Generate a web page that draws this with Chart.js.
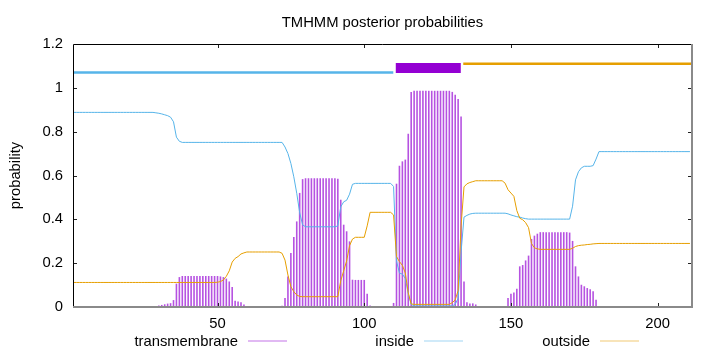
<!DOCTYPE html>
<html><head><meta charset="utf-8">
<script src="https://cdn.jsdelivr.net/npm/chart.js@4/dist/chart.umd.min.js"></script>
<style>html,body{margin:0;padding:0;background:#fff;}#wrap{position:relative;width:720px;height:352px;}</style>
</head><body><div id="wrap"><canvas id="c" width="720" height="352"></canvas></div>
<script>
const chartTitle = "TMHMM posterior probabilities";
const yAxisLabel = "probability";
const xTickValues = [50, 100, 150, 200];
const yTickValues = [0, 0.2, 0.4, 0.6, 0.8, 1, 1.2];
const seriesNames = ["transmembrane", "inside", "outside"];

// per-residue posterior probabilities (residue 1 ... 211)
const transmembrane = [
0,0,0,0,0,0,0,0,0,0, 0,0,0,0,0,0,0,0,0,0, 0,0,0,0,0,0,0,0.002,0.003,0.005,
0.008,0.011,0.014,0.016,0.03,0.105,0.135,0.14,0.14,0.14, 0.14,0.14,0.14,0.14,0.14,0.14,0.14,0.14,0.14,0.14,
0.138,0.135,0.128,0.115,0.09,0.027,0.024,0.02,0.01,0.003, 0,0,0,0,0,0,0,0,0,0,
0,0.004,0.04,0.138,0.245,0.318,0.389,0.519,0.582,0.586, 0.586,0.586,0.586,0.586,0.586,0.586,0.586,0.586,0.586,0.586,
0.584,0.488,0.374,0.344,0.298,0.123,0.122,0.122,0.122,0.122, 0.059,0.005,0,0,0,0,0,0,0.003,0.017,
0.561,0.643,0.663,0.671,0.789,0.979,0.985,0.985,0.985,0.985, 0.985,0.985,0.985,0.985,0.985,0.985,0.985,0.985,0.985,0.98,
0.967,0.947,0.868,0.115,0.02,0.015,0.015,0.01,0,0, 0,0,0,0,0,0,0,0,0.04,0.059,
0.065,0.082,0.184,0.19,0.211,0.233,0.309,0.324,0.333,0.34, 0.34,0.34,0.34,0.34,0.34,0.34,0.34,0.34,0.34,0.338,
0.30,0.184,0.138,0.10,0.093,0.085,0.08,0.07,0.032,0, 0,0,0,0,0,0,0,0,0,0,
0,0,0,0,0,0,0,0,0,0, 0,0,0,0,0,0,0,0,0,0,
0
];
const inside = [
0.888,0.888,0.888,0.888,0.888,0.888,0.888,0.888,0.888,0.888, 0.888,0.888,0.888,0.888,0.888,0.888,0.888,0.888,0.888,0.888,
0.888,0.888,0.888,0.888,0.888,0.888,0.888,0.888,0.886,0.884, 0.881,0.877,0.873,0.866,0.845,0.775,0.756,0.751,0.751,0.751,
0.751,0.751,0.751,0.751,0.751,0.751,0.751,0.751,0.751,0.751, 0.751,0.751,0.751,0.751,0.751,0.751,0.751,0.751,0.751,0.751,
0.751,0.751,0.751,0.751,0.751,0.751,0.751,0.751,0.751,0.751, 0.751,0.751,0.73,0.70,0.655,0.594,0.519,0.43,0.375,0.366,
0.366,0.366,0.366,0.366,0.366,0.366,0.366,0.366,0.366,0.366, 0.37,0.457,0.48,0.487,0.515,0.56,0.564,0.564,0.564,0.564,
0.564,0.564,0.564,0.564,0.564,0.564,0.564,0.564,0.564,0.55, 0.21,0.155,0.15,0.13,0.06,0.012,0.005,0.005,0.005,0.005,
0.005,0.005,0.005,0.005,0.005,0.005,0.005,0.005,0.005,0.005, 0.012,0.04,0.25,0.41,0.418,0.424,0.427,0.428,0.428,0.428,
0.428,0.428,0.428,0.428,0.428,0.428,0.428,0.428,0.425,0.42, 0.416,0.412,0.41,0.406,0.403,0.401,0.401,0.401,0.401,0.401,
0.401,0.401,0.401,0.401,0.401,0.401,0.401,0.401,0.401,0.401, 0.46,0.58,0.617,0.635,0.642,0.642,0.642,0.645,0.675,0.709,
0.709,0.709,0.709,0.709,0.709,0.709,0.709,0.709,0.709,0.709, 0.709,0.709,0.709,0.709,0.709,0.709,0.709,0.709,0.709,0.709,
0.709,0.709,0.709,0.709,0.709,0.709,0.709,0.709,0.709,0.709, 0.709
];
const outside = [
0.112,0.112,0.112,0.112,0.112,0.112,0.112,0.112,0.112,0.112, 0.112,0.112,0.112,0.112,0.112,0.112,0.112,0.112,0.112,0.112,
0.112,0.112,0.112,0.112,0.112,0.112,0.112,0.112,0.112,0.112, 0.112,0.112,0.112,0.112,0.112,0.112,0.112,0.112,0.112,0.112,
0.112,0.112,0.112,0.112,0.112,0.112,0.112,0.112,0.112,0.113, 0.116,0.123,0.14,0.165,0.205,0.222,0.23,0.242,0.247,0.251,
0.251,0.251,0.251,0.251,0.251,0.251,0.251,0.251,0.251,0.251, 0.251,0.245,0.214,0.146,0.093,0.07,0.055,0.048,0.047,0.047,
0.047,0.047,0.047,0.047,0.047,0.047,0.047,0.047,0.047,0.047, 0.047,0.12,0.165,0.21,0.28,0.31,0.318,0.318,0.318,0.318,
0.37,0.432,0.432,0.432,0.432,0.432,0.432,0.432,0.432,0.42, 0.23,0.207,0.19,0.155,0.065,0.014,0.012,0.012,0.012,0.012,
0.012,0.012,0.012,0.012,0.012,0.012,0.012,0.012,0.012,0.02, 0.032,0.075,0.37,0.548,0.562,0.568,0.572,0.576,0.576,0.576,
0.576,0.576,0.576,0.576,0.576,0.576,0.576,0.565,0.535,0.52, 0.505,0.44,0.405,0.398,0.385,0.362,0.29,0.27,0.265,0.263,
0.263,0.263,0.263,0.263,0.263,0.263,0.263,0.263,0.263,0.263, 0.268,0.276,0.28,0.282,0.283,0.285,0.286,0.288,0.289,0.29,
0.29,0.29,0.29,0.29,0.29,0.29,0.29,0.29,0.29,0.29, 0.29,0.29,0.29,0.29,0.29,0.29,0.29,0.29,0.29,0.29,
0.29,0.29,0.29,0.29,0.29,0.29,0.29,0.29,0.29,0.29, 0.29
];
// predicted topology: label, first residue, last residue, drawing level
const topologyLabels = ["inside", "TMhelix", "outside"];
const topologyStart = [1, 111, 134];
const topologyEnd = [110, 133, 212];
const topologyLevel = [1.07, 1.09, 1.11];

const COL_TM = '#9400D3', COL_IN = '#56B4E9', COL_OUT = '#E69F00';
const FONT = '"Liberation Sans", Arial, sans-serif';
const FS = 14.8;

const toXY = arr => arr.map((v, i) => ({x: i + 1, y: v}));
const topoColors = {inside: COL_IN, TMhelix: COL_TM, outside: COL_OUT};
const topoWidths = {inside: 2.6, TMhelix: 10, outside: 2.6};
const topoSets = topologyLabels.map((lab, i) => ({
  type: 'line', label: lab,
  data: [{x: topologyStart[i] - 0.25, y: topologyLevel[i]}, {x: topologyEnd[i] - 0.1, y: topologyLevel[i]}],
  borderColor: topoColors[lab], borderWidth: topoWidths[lab], borderCapStyle: 'butt',
  pointRadius: 0, fill: false, order: 5, clip: 0
}));

const deco = {
  id: 'deco',
  afterDraw(chart) {
    const {ctx, chartArea: a, scales: {x, y}} = chart;
    ctx.save();
    ctx.strokeStyle = '#222'; ctx.lineWidth = 1;
    ctx.beginPath();
    yTickValues.forEach(v => {
      if (v === 0 || v === 1.2) return;
      const py = Math.round(y.getPixelForValue(v)) + 0.5;
      ctx.moveTo(a.left, py); ctx.lineTo(a.left + 4, py);
      ctx.moveTo(a.right, py); ctx.lineTo(a.right - 4, py);
    });
    xTickValues.forEach(v => {
      const px = Math.round(x.getPixelForValue(v)) + 0.5;
      ctx.moveTo(px, a.bottom); ctx.lineTo(px, a.bottom - 4);
      ctx.moveTo(px, a.top); ctx.lineTo(px, a.top + 4);
    });
    ctx.stroke();
    ctx.strokeStyle = '#000'; ctx.lineWidth = 1;
    ctx.beginPath();
    ctx.moveTo(a.left + 0.5, a.bottom); ctx.lineTo(a.left + 0.5, a.top + 0.5); ctx.lineTo(a.right, a.top + 0.5);
    ctx.stroke();
    ctx.strokeStyle = '#8a8a8a'; ctx.lineWidth = 2;
    ctx.beginPath();
    ctx.moveTo(a.left, a.bottom); ctx.lineTo(a.right, a.bottom); ctx.lineTo(a.right, a.top);
    ctx.stroke();
    ctx.fillStyle = '#000';
    ctx.font = FS + 'px ' + FONT;
    ctx.textAlign = 'center'; ctx.textBaseline = 'alphabetic';
    ctx.fillText(chartTitle, (a.left + a.right) / 2, 27);
    ctx.save();
    ctx.translate(15.5, (a.top + a.bottom) / 2);
    ctx.rotate(-Math.PI / 2);
    ctx.textBaseline = 'middle';
    ctx.fillText(yAxisLabel, 0, 0);
    ctx.restore();
    const cols = [COL_TM, COL_IN, COL_OUT];
    const ends = [238, 414, 590];
    ctx.textAlign = 'right'; ctx.textBaseline = 'middle';
    seriesNames.forEach((n, i) => {
      ctx.fillStyle = '#000';
      ctx.fillText(n, ends[i], 342);
      ctx.strokeStyle = cols[i]; ctx.globalAlpha = 0.55; ctx.lineWidth = 1;
      ctx.beginPath(); ctx.moveTo(ends[i] + 10, 341); ctx.lineTo(ends[i] + 49, 341); ctx.stroke();
      ctx.globalAlpha = 1;
    });
    ctx.restore();
  }
};

new Chart(document.getElementById('c'), {
  type: 'bar',
  data: {
    datasets: [
      {type: 'bar', label: seriesNames[0], data: toXY(transmembrane), backgroundColor: 'rgba(148,0,211,0.68)',
       barThickness: 0.95, grouped: false, order: 3, borderWidth: 0},
      {type: 'line', label: seriesNames[1], data: toXY(inside), borderColor: COL_IN, borderWidth: 1,
       pointRadius: 0, fill: false, order: 2, tension: 0},
      {type: 'line', label: seriesNames[2], data: toXY(outside), borderColor: COL_OUT, borderWidth: 1,
       pointRadius: 0, fill: false, order: 1, tension: 0},
      ...topoSets
    ]
  },
  options: {
    responsive: false, animation: false, devicePixelRatio: 1,
    layout: {padding: {left: 0, right: 28, top: 44, bottom: 0}},
    plugins: {legend: {display: false}, title: {display: false}, tooltip: {enabled: false}},
    scales: {
      x: {
        type: 'linear', min: 0.75, max: 211.7, offset: false,
        grid: {display: false, drawTicks: false}, border: {display: false},
        afterBuildTicks: s => { s.ticks = xTickValues.map(v => ({value: v})); },
        afterFit: s => { s.height = 45; },
        ticks: {font: {family: FONT, size: FS}, color: '#000', padding: 8, maxRotation: 0, autoSkip: false,
                callback: v => String(v)}
      },
      y: {
        type: 'linear', min: 0, max: 1.2,
        grid: {display: false, drawTicks: false}, border: {display: false},
        afterBuildTicks: s => { s.ticks = yTickValues.map(v => ({value: v})); },
        afterFit: s => { s.width = 73; },
        ticks: {font: {family: FONT, size: FS}, color: '#000', padding: 10,
                callback: v => String(Number(v.toFixed(1)))}
      }
    }
  },
  plugins: [deco]
});
</script></body></html>
